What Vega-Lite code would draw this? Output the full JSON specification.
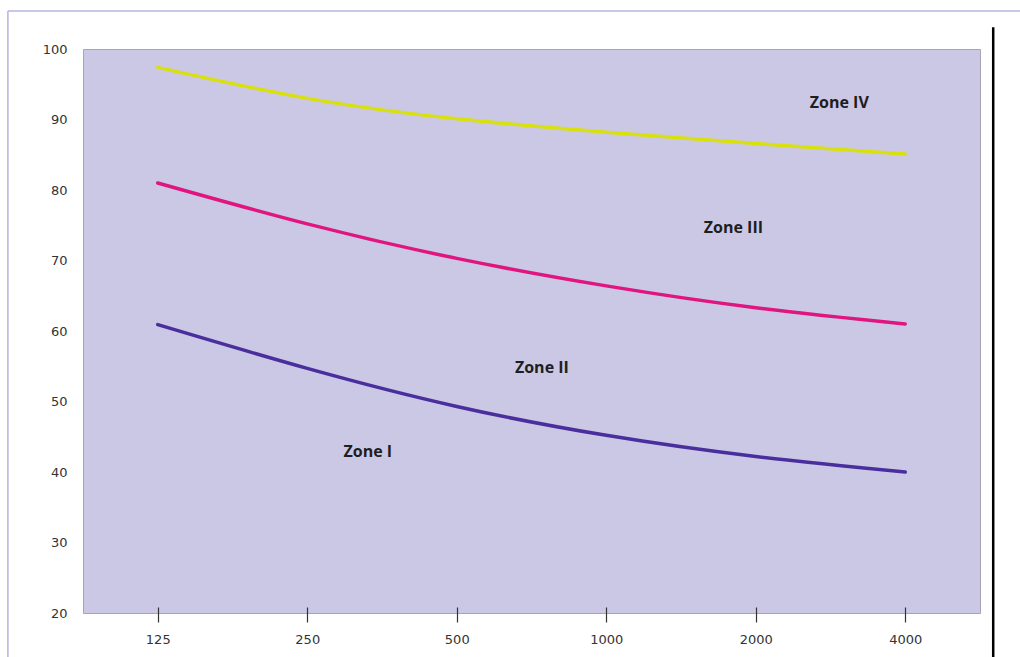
{
  "$schema": "https://vega.github.io/schema/vega-lite/v6.json",
  "width": 897,
  "height": 564,
  "autosize": "none",
  "padding": {"left": 83, "top": 49, "right": 40, "bottom": 44},
  "background": "#ffffff",
  "config": {
    "view": {"fill": "#cbc8e5", "stroke": "#aaa3b8", "strokeWidth": 1},
    "axis": {"grid": false, "labelFont": "DejaVu Sans", "labelFontSize": 13, "labelColor": "#333333"}
  },
  "datasets": {
    "curves": [
      {"freq": 125, "level": 97.4, "zone": "IV"},
      {"freq": 250, "level": 93.0, "zone": "IV"},
      {"freq": 500, "level": 90.1, "zone": "IV"},
      {"freq": 1000, "level": 88.2, "zone": "IV"},
      {"freq": 2000, "level": 86.6, "zone": "IV"},
      {"freq": 4000, "level": 85.1, "zone": "IV"},
      {"freq": 125, "level": 81.0, "zone": "III"},
      {"freq": 250, "level": 75.2, "zone": "III"},
      {"freq": 500, "level": 70.3, "zone": "III"},
      {"freq": 1000, "level": 66.4, "zone": "III"},
      {"freq": 2000, "level": 63.3, "zone": "III"},
      {"freq": 4000, "level": 61.0, "zone": "III"},
      {"freq": 125, "level": 60.9, "zone": "II"},
      {"freq": 250, "level": 54.7, "zone": "II"},
      {"freq": 500, "level": 49.3, "zone": "II"},
      {"freq": 1000, "level": 45.2, "zone": "II"},
      {"freq": 2000, "level": 42.2, "zone": "II"},
      {"freq": 4000, "level": 40.0, "zone": "II"}
    ],
    "labels": [
      {"freq": 331, "level": 42.8, "text": "Zone I"},
      {"freq": 742, "level": 54.7, "text": "Zone II"},
      {"freq": 1803, "level": 74.6, "text": "Zone III"},
      {"freq": 2946, "level": 92.3, "text": "Zone IV"}
    ],
    "frameLeft": [{"x": 62.4, "y1": 105.4, "y2": 13.0}],
    "frameRight": [{"x": 6014, "y1": 103.1, "y2": 13.0}],
    "frameTop": [{"x1": 62.4, "x2": 8000, "y": 105.4}]
  },
  "layer": [
    {
      "data": {"name": "curves"},
      "mark": {"type": "line", "interpolate": "natural", "strokeWidth": 3.5, "strokeCap": "round"},
      "encoding": {
        "x": {
          "field": "freq", "type": "quantitative",
          "scale": {"type": "log", "base": 2, "domain": [88.39, 5656.85], "nice": false},
          "axis": {"values": [125, 250, 500, 1000, 2000, 4000], "title": null, "domain": false, "offset": -6, "tickSize": 15, "tickColor": "#333333", "tickWidth": 1.2, "labelPadding": 11, "format": "d"}
        },
        "y": {
          "field": "level", "type": "quantitative",
          "scale": {"domain": [20, 100], "nice": false, "zero": false},
          "axis": {"values": [20, 30, 40, 50, 60, 70, 80, 90, 100], "title": null, "domain": false, "ticks": false, "labelPadding": 16}
        },
        "color": {"field": "zone", "type": "nominal", "scale": {"domain": ["IV", "III", "II"], "range": ["#d8e00f", "#e0157f", "#4a2e9e"]}, "legend": null}
      }
    },
    {
      "data": {"name": "frameLeft"},
      "mark": {"type": "rule", "clip": false, "color": "#b4b4e0", "strokeWidth": 1.5},
      "encoding": {
        "x": {"field": "x", "type": "quantitative"},
        "y": {"field": "y1", "type": "quantitative"},
        "y2": {"field": "y2"}
      }
    },
    {
      "data": {"name": "frameRight"},
      "mark": {"type": "rule", "clip": false, "color": "#000000", "strokeWidth": 2.5},
      "encoding": {
        "x": {"field": "x", "type": "quantitative"},
        "y": {"field": "y1", "type": "quantitative"},
        "y2": {"field": "y2"}
      }
    },
    {
      "data": {"name": "frameTop"},
      "mark": {"type": "rule", "clip": false, "color": "#b4b4e0", "strokeWidth": 1.5},
      "encoding": {
        "x": {"field": "x1", "type": "quantitative"},
        "x2": {"field": "x2"},
        "y": {"field": "y", "type": "quantitative"}
      }
    },
    {
      "data": {"name": "labels"},
      "mark": {"type": "text", "font": "Open Sans", "fontWeight": "bold", "fontSize": 16, "color": "#1e1e1e"},
      "encoding": {
        "x": {"field": "freq", "type": "quantitative"},
        "y": {"field": "level", "type": "quantitative"},
        "text": {"field": "text"}
      }
    }
  ]
}
